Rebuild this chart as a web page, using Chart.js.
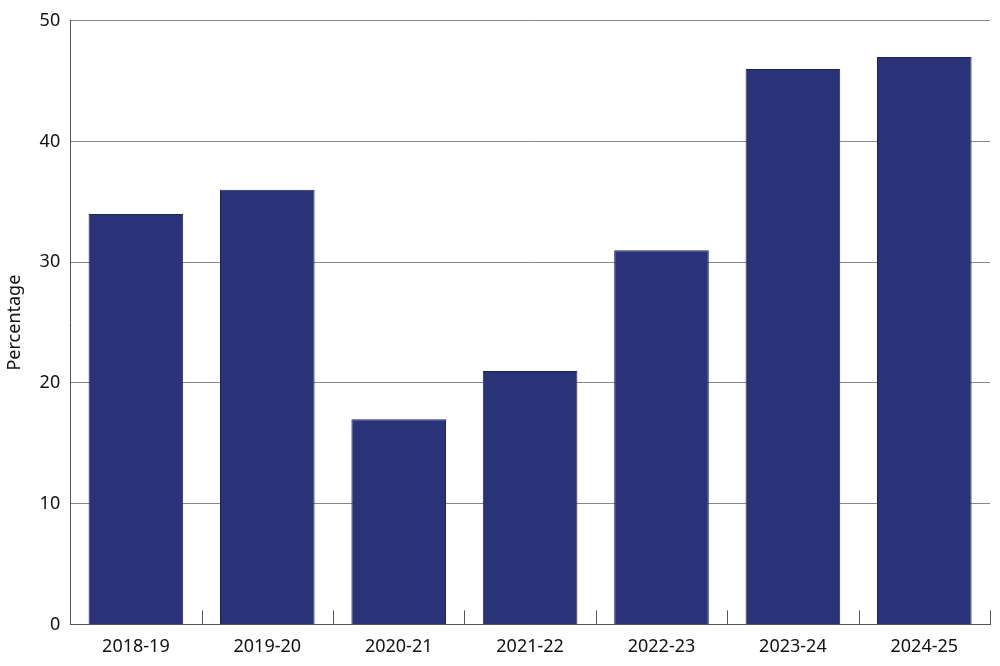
<!DOCTYPE html>
<html>
<head>
<meta charset="utf-8">
<script src="https://cdn.jsdelivr.net/npm/chart.js@4"></script>
<style>
  html, body { margin: 0; padding: 0; background: #fff; }
  #wrap { width: 1000px; height: 666px; }
</style>
</head>
<body>
<div id="wrap"><canvas id="chart"></canvas></div>
<script>
var categories = ['2018-19', '2019-20', '2020-21', '2021-22', '2022-23', '2023-24', '2024-25'];
var values = [34, 36, 17, 21, 31, 46, 47];
var yTicks = [0, 10, 20, 30, 40, 50];

// small upward ticks between categories on the x axis
var catTicks = {
    id: 'catTicks',
    afterDatasetsDraw: function(chart){
        var x = chart.scales.x, y = chart.scales.y, ctx = chart.ctx;
        var bottom = y.getPixelForValue(0);
        var half = (x.getPixelForValue(1) - x.getPixelForValue(0)) / 2;
        ctx.save();
        ctx.strokeStyle = '#555';
        ctx.lineWidth = 1;
        for (var i = 0; i <= categories.length; i++) {
            var px = Math.round(x.getPixelForValue(i) - half) + 0.5;
            ctx.beginPath();
            ctx.moveTo(px, bottom);
            ctx.lineTo(px, bottom - 14);
            ctx.stroke();
        }
        ctx.restore();
    }
};

new Chart(document.getElementById('chart'), {
    type: 'bar',
    data: {
        labels: categories,
        datasets: [{
            data: values,
            backgroundColor: '#2a3278',
            borderColor: '#1d2360',
            borderWidth: 1,
            categoryPercentage: 1,
            barPercentage: 0.72
        }]
    },
    plugins: [catTicks],
    options: {
        responsive: true,
        maintainAspectRatio: false,
        animation: false,
        layout: { padding: { top: 8, right: 10, bottom: 4, left: 0 } },
        plugins: { legend: { display: false }, tooltip: { enabled: false } },
        scales: {
            x: {
                grid: { display: false },
                border: { color: '#555' },
                ticks: { color: '#111', font: { family: 'Noto Sans', size: 18 }, padding: 4 }
            },
            y: {
                min: 0, max: 50,
                afterBuildTicks: function(s){ s.ticks = yTicks.map(function(v){ return { value: v }; }); },
                grid: { color: '#888', drawTicks: false },
                border: { color: '#555' },
                ticks: { color: '#111', font: { family: 'Noto Sans', size: 18 }, padding: 10 },
                title: { display: true, text: 'Percentage', color: '#111', font: { family: 'Noto Sans', size: 18 }, padding: 4 }
            }
        }
    }
});
</script>
</body>
</html>
